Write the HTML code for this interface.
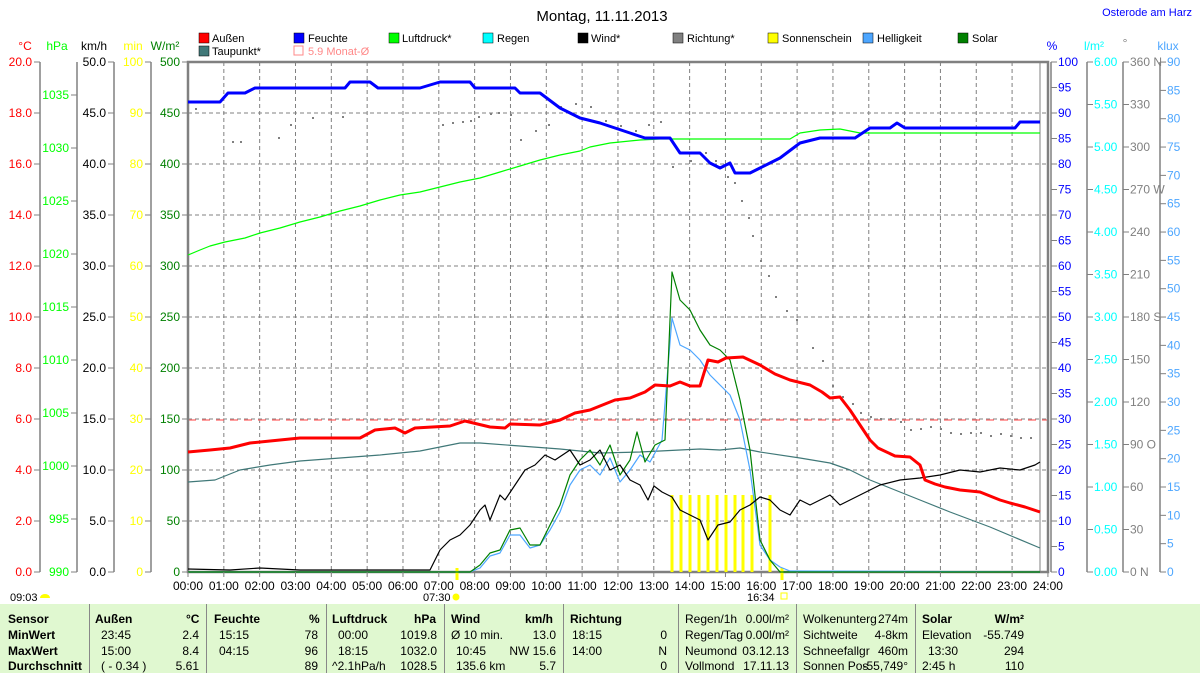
<!DOCTYPE html>
<html><head><meta charset="utf-8"><style>
body{margin:0;background:#fff;width:1200px;height:673px;overflow:hidden;font-family:"Liberation Sans",sans-serif}
svg text{font-family:"Liberation Sans",sans-serif;font-size:12px}
#tbl{position:absolute;left:0;top:604px;width:1200px;height:69px;background:#e0f8d0;font-size:12px}
#tbl div{position:absolute;white-space:nowrap}
.b{font-weight:bold}
.v{position:absolute;top:0;width:1px;height:69px;background:#888}
</style></head><body>
<svg width="1200" height="604" style="position:absolute;left:0;top:0">
<text x="602" y="21" text-anchor="middle" font-size="15" style="font-size:15px">Montag, 11.11.2013</text>
<text x="1192" y="16" text-anchor="end" fill="#0000ff" style="font-size:11px">Osterode am Harz</text>
<!-- legend -->
<g style="font-size:11px">
<rect x="199" y="33" width="10" height="10" fill="#f00" stroke="#000" stroke-width=".5"/><text x="212" y="42" style="font-size:11px">Außen</text>
<rect x="199" y="46" width="10" height="10" fill="#407878" stroke="#000" stroke-width=".5"/><text x="212" y="55" style="font-size:11px">Taupunkt*</text>
<rect x="294" y="33" width="10" height="10" fill="#00f" stroke="#000" stroke-width=".5"/><text x="308" y="42" style="font-size:11px">Feuchte</text>
<rect x="294" y="46" width="9" height="9" fill="none" stroke="#f88"/><text x="308" y="55" fill="#f88" style="font-size:11px">5.9 Monat-Ø</text>
<rect x="389" y="33" width="10" height="10" fill="#0f0" stroke="#000" stroke-width=".5"/><text x="402" y="42" style="font-size:11px">Luftdruck*</text>
<rect x="483" y="33" width="10" height="10" fill="#0ff" stroke="#000" stroke-width=".5"/><text x="497" y="42" style="font-size:11px">Regen</text>
<rect x="578" y="33" width="10" height="10" fill="#000" stroke="#000" stroke-width=".5"/><text x="591" y="42" style="font-size:11px">Wind*</text>
<rect x="673" y="33" width="10" height="10" fill="#808080" stroke="#000" stroke-width=".5"/><text x="687" y="42" style="font-size:11px">Richtung*</text>
<rect x="768" y="33" width="10" height="10" fill="#ff0" stroke="#000" stroke-width=".5"/><text x="782" y="42" style="font-size:11px">Sonnenschein</text>
<rect x="863" y="33" width="10" height="10" fill="#4da6ff" stroke="#000" stroke-width=".5"/><text x="877" y="42" style="font-size:11px">Helligkeit</text>
<rect x="958" y="33" width="10" height="10" fill="#008000" stroke="#000" stroke-width=".5"/><text x="972" y="42" style="font-size:11px">Solar</text>
</g>
<!-- axis titles -->
<text x="25" y="50" fill="#f00" text-anchor="middle">°C</text>
<text x="57" y="50" fill="#0f0" text-anchor="middle">hPa</text>
<text x="94" y="50" text-anchor="middle">km/h</text>
<text x="133" y="50" fill="#ff0" text-anchor="middle">min</text>
<text x="165" y="50" fill="#008000" text-anchor="middle">W/m²</text>
<text x="1052" y="50" fill="#00f" text-anchor="middle">%</text>
<text x="1094" y="50" fill="#0ff" text-anchor="middle">l/m²</text>
<text x="1125" y="47" fill="#808080" text-anchor="middle">°</text>
<text x="1168" y="50" fill="#4da6ff" text-anchor="middle">klux</text>
<g id="axes" stroke="#808080" stroke-width="1.5" fill="none">
<line x1="40" y1="62" x2="40" y2="572"/><line x1="77" y1="62" x2="77" y2="572"/><line x1="114" y1="62" x2="114" y2="572"/><line x1="151" y1="62" x2="151" y2="572"/>
<line x1="1051" y1="62" x2="1051" y2="572"/><line x1="1087" y1="62" x2="1087" y2="572"/><line x1="1123" y1="62" x2="1123" y2="572"/><line x1="1160" y1="62" x2="1160" y2="572"/>
</g>
<g id="ticks"></g>
<!-- grid -->
<g stroke="#808080" stroke-dasharray="4,3" stroke-width="1" id="grid"></g>
<line x1="188" y1="420" x2="1048" y2="420" stroke="#f66" stroke-dasharray="8,6" stroke-width="1.3"/>
<rect x="188" y="62" width="860" height="510" fill="none" stroke="#808080" stroke-width="2.5"/>
<line x1="1040" y1="62" x2="1040" y2="572" stroke="#808080" stroke-width="1"/>
<!-- sunshine bars -->
<g stroke="#ff0" stroke-width="3">
<line x1="672" y1="495" x2="672" y2="572"/><line x1="681" y1="495" x2="681" y2="572"/><line x1="690" y1="495" x2="690" y2="572"/><line x1="699" y1="495" x2="699" y2="572"/><line x1="708" y1="495" x2="708" y2="572"/><line x1="717" y1="495" x2="717" y2="572"/><line x1="726" y1="495" x2="726" y2="572"/><line x1="735" y1="495" x2="735" y2="572"/><line x1="743" y1="495" x2="743" y2="572"/><line x1="752" y1="495" x2="752" y2="572"/><line x1="770" y1="495" x2="770" y2="572"/>
<line x1="457" y1="568" x2="457" y2="580"/><line x1="782" y1="568" x2="782" y2="580"/>
</g>
<!-- direction dots -->
<g fill="#808080" id="dots"></g>
<g fill="none" stroke-linejoin="round">
<polyline stroke="#407878" stroke-width="1.2" points="188,482 215,480 240,470 270,465 300,461 340,458 380,455 420,451 440,447 460,443 480,443 520,446 560,449 600,453 640,452 680,450 700,449 720,450 740,448 760,452 800,458 830,463 850,470 870,480 890,488 920,500 950,512 990,527 1040,548"/>
<polyline stroke="#0f0" stroke-width="1.2" points="188,255 200,250 210,246 225,242 245,238 260,233 280,228 300,222 320,217 340,211 360,206 380,200 400,195 420,192 440,187 460,182 480,178 500,172 520,166 540,160 560,155 580,151 590,147 610,143 640,140 660,139 700,139 790,139 800,133 820,130 840,129 860,133 880,133 900,133 1040,133"/>
<polyline stroke="#4da6ff" stroke-width="1.2" points="188,572 470,572 480,568 490,556 500,553 510,535 520,535 530,548 540,545 550,530 560,512 570,485 580,470 590,465 600,475 610,458 620,482 630,470 640,455 650,462 662,440 672,318 680,345 690,350 700,360 710,375 720,385 730,395 740,420 750,470 760,545 770,560 780,567 790,571 1040,572"/>
<polyline stroke="#008000" stroke-width="1.2" points="188,572 470,572 480,565 490,553 500,550 510,530 520,528 530,545 540,545 550,525 560,505 570,475 580,460 590,450 600,465 610,445 620,475 630,460 637,432 645,462 655,445 665,440 672,272 680,300 690,310 700,330 710,345 720,350 730,360 740,400 750,450 760,540 770,560 780,572 1040,572"/>
<polyline stroke="#000" stroke-width="1.2" points="188,569 230,570 260,568 280,569 300,570 430,570 440,550 450,540 460,535 470,525 480,510 485,505 490,520 500,495 505,500 515,485 525,470 535,465 545,455 555,460 570,450 580,465 590,460 600,450 610,470 620,465 630,480 640,485 648,500 654,486 662,492 672,497 680,510 690,515 700,520 708,540 718,525 730,522 740,510 750,505 760,497 770,500 780,510 790,515 800,500 810,505 820,500 830,495 840,505 850,500 860,495 870,490 880,485 900,480 920,478 940,475 960,470 980,472 1000,468 1020,470 1035,465 1040,462"/>
<polyline stroke="#f00" stroke-width="3" points="188,452 210,450 230,448 250,443 280,440 300,438 360,438 375,430 395,428 405,433 415,428 450,426 465,421 490,427 505,428 510,424 540,425 560,420 575,413 590,410 605,404 615,400 630,398 645,392 655,385 670,386 680,382 690,386 700,386 708,360 718,362 726,358 743,357 760,365 775,374 790,380 810,385 822,392 830,398 840,397 850,410 870,440 878,448 895,456 910,457 920,465 925,480 935,484 945,487 960,490 980,492 1000,500 1010,503 1025,507 1040,512"/>
<polyline stroke="#00f" stroke-width="3" points="188,102 220,102 228,93 245,93 255,88 345,88 350,82 370,82 378,88 420,88 430,85 440,82 470,82 475,88 515,88 520,93 540,93 560,108 580,118 600,123 615,128 630,133 645,138 670,138 680,153 700,153 710,163 720,168 730,163 735,173 750,173 760,168 770,163 780,158 800,143 820,138 855,138 870,128 890,128 897,123 905,128 1015,128 1020,122 1040,122"/>
</g>
<text x="10" y="601" style="font-size:11px">09:03</text><path d="M40,598 a5,4 0 0 1 10,0z" fill="#ff0"/>
<text x="423" y="601" style="font-size:11px">07:30</text><circle cx="456" cy="597" r="3.5" fill="#ff0"/>
<text x="747" y="601" style="font-size:11px">16:34</text><rect x="781" y="593" width="6" height="6" fill="none" stroke="#ff0"/>
<g id="xl"></g>
</svg>
<div id="tbl">
<div class="v" style="left:89px"></div><div class="v" style="left:206px"></div><div class="v" style="left:326px"></div><div class="v" style="left:444px"></div><div class="v" style="left:563px"></div><div class="v" style="left:678px"></div><div class="v" style="left:796px"></div><div class="v" style="left:915px"></div>
<div class="b" style="left:8px;top:8px">Sensor</div><div class="b" style="left:8px;top:24px">MinWert</div><div class="b" style="left:8px;top:40px">MaxWert</div><div class="b" style="left:8px;top:55px">Durchschnitt</div>
<div class="b" style="left:95px;top:8px">Außen</div><div class="b" style="left:186px;top:8px">°C</div>
<div style="left:101px;top:24px">23:45</div><div style="left:101px;top:40px">15:00</div><div style="left:101px;top:55px">( - 0.34 )</div>
<div style="right:1001px;top:24px">2.4</div><div style="right:1001px;top:40px">8.4</div><div style="right:1001px;top:55px">5.61</div>
<div class="b" style="left:214px;top:8px">Feuchte</div><div class="b" style="left:309px;top:8px">%</div>
<div style="left:219px;top:24px">15:15</div><div style="left:219px;top:40px">04:15</div>
<div style="right:882px;top:24px">78</div><div style="right:882px;top:40px">96</div><div style="right:882px;top:55px">89</div>
<div class="b" style="left:332px;top:8px">Luftdruck</div><div class="b" style="left:414px;top:8px">hPa</div>
<div style="left:338px;top:24px">00:00</div><div style="left:338px;top:40px">18:15</div><div style="left:332px;top:55px">^2.1hPa/h</div>
<div style="right:763px;top:24px">1019.8</div><div style="right:763px;top:40px">1032.0</div><div style="right:763px;top:55px">1028.5</div>
<div class="b" style="left:451px;top:8px">Wind</div><div class="b" style="left:525px;top:8px">km/h</div>
<div style="left:451px;top:24px">Ø 10 min.</div><div style="left:456px;top:40px">10:45</div><div style="left:456px;top:55px">135.6 km</div>
<div style="right:644px;top:24px">13.0</div><div style="right:644px;top:40px">NW 15.6</div><div style="right:644px;top:55px">5.7</div>
<div class="b" style="left:570px;top:8px">Richtung</div>
<div style="left:572px;top:24px">18:15</div><div style="left:572px;top:40px">14:00</div>
<div style="right:533px;top:24px">0</div><div style="right:533px;top:40px">N</div><div style="right:533px;top:55px">0</div>
<div style="left:685px;top:8px">Regen/1h</div><div style="left:685px;top:24px">Regen/Tag</div><div style="left:685px;top:40px">Neumond</div><div style="left:685px;top:55px">Vollmond</div>
<div style="right:411px;top:8px">0.00l/m²</div><div style="right:411px;top:24px">0.00l/m²</div><div style="right:411px;top:40px">03.12.13</div><div style="right:411px;top:55px">17.11.13</div>
<div style="left:803px;top:8px">Wolkenunterg</div><div style="left:803px;top:24px">Sichtweite</div><div style="left:803px;top:40px">Schneefallgr</div><div style="left:803px;top:55px">Sonnen Pos</div>
<div style="right:292px;top:8px">274m</div><div style="right:292px;top:24px">4-8km</div><div style="right:292px;top:40px">460m</div><div style="right:292px;top:55px">-55,749°</div>
<div class="b" style="left:922px;top:8px">Solar</div><div class="b" style="right:176px;top:8px">W/m²</div>
<div style="left:922px;top:24px">Elevation</div><div style="left:928px;top:40px">13:30</div><div style="left:922px;top:55px">2:45 h</div>
<div style="right:176px;top:24px">-55.749</div><div style="right:176px;top:40px">294</div><div style="right:176px;top:55px">110</div>
</div>
<script>
var NS="http://www.w3.org/2000/svg";
function el(p,t,a,txt){var e=document.createElementNS(NS,t);for(var k in a)e.setAttribute(k,a[k]);if(txt!=null)e.textContent=txt;document.getElementById(p).appendChild(e);return e;}
for(var h=1;h<24;h++){var x=188+h*35.83;el("grid","line",{x1:x,y1:62,x2:x,y2:572});}
for(var i=1;i<10;i++){var y=62+i*51;el("grid","line",{x1:188,y1:y,x2:1048,y2:y});}
for(var h=0;h<=24;h++){var x=188+h*35.83;el("xl","text",{x:x,y:590,"text-anchor":"middle"},(h<10?"0":"")+h+":00");el("xl","line",{x1:x,y1:572,x2:x,y2:577,stroke:"#808080"});}
function axis(lx,col,vals,y0,dy,left,tickLeft){for(var i=0;i<vals.length;i++){var y=y0-i*dy;if(vals[i]==="")continue;
el("ticks","line",{x1:tickLeft?lx-6:lx,y1:y,x2:tickLeft?lx:lx+6,y2:y,stroke:"#808080"});
el("ticks","text",{x:tickLeft?lx-8:lx+7,y:y+4,fill:col,"text-anchor":tickLeft?"end":"start"},vals[i]);}}
var a=[];for(var i=0;i<=10;i++)a.push((i*2).toFixed(1));axis(40,"#f00",a,572,51,0,1);
a=[];for(var i=0;i<=9;i++)a.push(""+(990+i*5));axis(77,"#0f0",a,572,53,0,1);
a=[];for(var i=0;i<=10;i++)a.push((i*5).toFixed(1));axis(114,"#000",a,572,51,0,1);
a=[];for(var i=0;i<=10;i++)a.push(""+i*10);axis(151,"#ff0",a,572,51,0,1);
a=[];for(var i=0;i<=10;i++)a.push(""+i*50);axis(188,"#008000",a,572,51,0,1);
a=[];for(var i=0;i<=20;i++)a.push(""+i*5);axis(1051,"#00f",a,572,25.5,0,0);
a=[];for(var i=0;i<=12;i++)a.push((i*0.5).toFixed(2));axis(1087,"#0ff",a,572,42.5,0,0);
var d=["0 N","30","60","90 O","120","150","180 S","210","240","270 W","300","330","360 N"];axis(1123,"#808080",d,572,42.5,0,0);
a=[];for(var i=0;i<=18;i++)a.push(""+i*5);axis(1160,"#4da6ff",a,572,28.33,0,0);
var dots=[[195,108],[232,141],[240,141],[278,137],[290,124],[312,117],[342,116],[442,124],[452,122],[462,121],[470,120],[478,116],[490,113],[498,112],[510,114],[520,139],[535,130],[548,124],[560,106],[575,103],[590,106],[605,120],[620,125],[635,130],[648,124],[660,121],[672,166],[690,160],[705,152],[715,160],[727,176],[734,182],[741,200],[748,217],[752,235],[760,260],[768,275],[775,296],[786,310],[796,319],[812,347],[822,360],[832,385],[842,396],[852,403],[860,412],[870,416],[880,418],[890,418],[900,421],[910,429],[920,428],[930,426],[940,428],[950,432],[960,433],[970,432],[980,432],[990,435],[1000,433],[1010,435],[1020,437],[1030,437]];
dots.forEach(function(p){el("dots","rect",{x:p[0],y:p[1],width:2,height:2});});
</script>
</body></html>
